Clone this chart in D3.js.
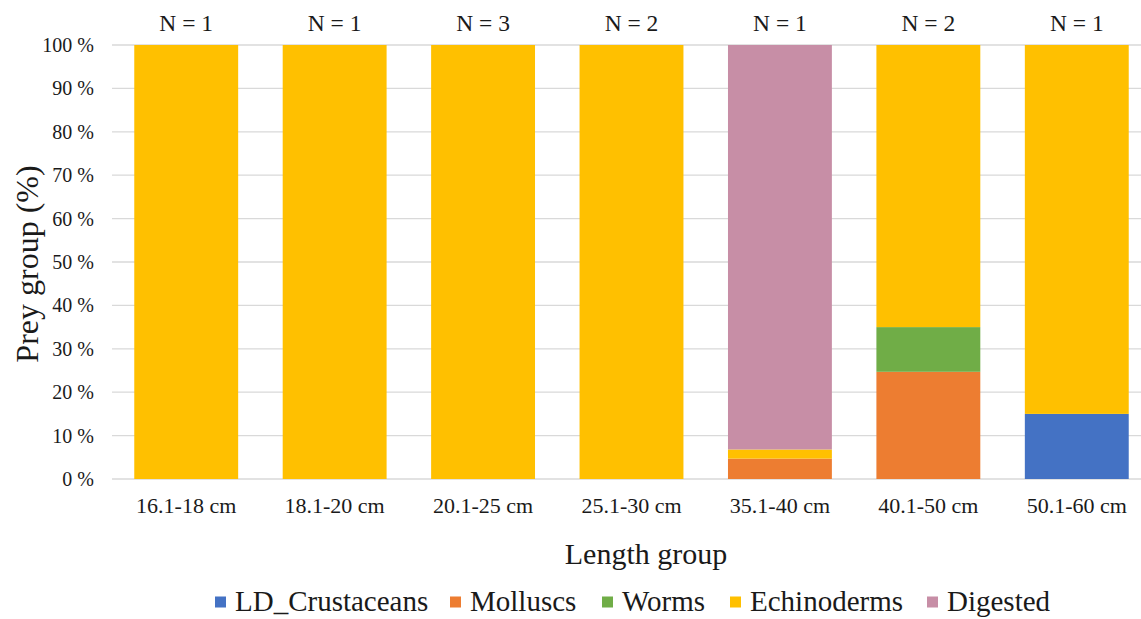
<!DOCTYPE html>
<html><head><meta charset="utf-8">
<script src="https://cdn.jsdelivr.net/npm/d3@7"></script>
<style>body{margin:0;background:#fff;}</style>
</head><body>
<svg id="c" width="1141" height="619"></svg>
<script>
const categories = ["16.1-18 cm","18.1-20 cm","20.1-25 cm","25.1-30 cm","35.1-40 cm","40.1-50 cm","50.1-60 cm"];
const nLabels = ["N = 1","N = 1","N = 3","N = 2","N = 1","N = 2","N = 1"];
const seriesNames = ["LD_Crustaceans","Molluscs","Worms","Echinoderms","Digested"];
const crustaceans = [0,0,0,0,0,0,15];
const molluscs    = [0,0,0,0,4.7,24.7,0];
const worms       = [0,0,0,0,0,10.3,0];
const echinoderms = [100,100,100,100,2.1,65,85];
const digested    = [0,0,0,0,93.2,0,0];
const yTicks = [0,10,20,30,40,50,60,70,80,90,100];
const colors = ["#4472C4","#ED7D31","#70AD47","#FFC000","#C78EA6"];

(function(){
const FONT = "Liberation Serif";
const svg = d3.select("#c");
const pTop = 45, pBottom = 479, pLeft = 112, pRight = 1151;
const x = d3.scaleBand().domain(categories).range([pLeft,pRight]).paddingInner(0.3).paddingOuter(0.15);
const y = d3.scaleLinear().domain([0,100]).range([pBottom,pTop]);

const rows = categories.map((c,i)=>({cat:c, LD_Crustaceans:crustaceans[i], Molluscs:molluscs[i], Worms:worms[i], Echinoderms:echinoderms[i], Digested:digested[i]}));
const stack = d3.stack().keys(seriesNames)(rows);

svg.append("g").selectAll("line").data(yTicks).join("line")
  .attr("x1",pLeft).attr("x2",1141).attr("y1",d=>y(d)).attr("y2",d=>y(d))
  .attr("stroke","#d9d9d9").attr("stroke-width",1.3);

svg.append("g").attr("font-family",FONT).selectAll("text").data(yTicks).join("text")
  .attr("x",94).attr("y",d=>y(d)).attr("dy","0.35em").attr("text-anchor","end")
  .attr("font-size",20).attr("fill","#1a1a1a").text(d=>d+" %");

svg.append("g").selectAll("g").data(stack).join("g")
  .attr("fill",(d,i)=>colors[i])
  .selectAll("rect").data(d=>d).join("rect")
  .attr("x",d=>x(d.data.cat)).attr("width",x.bandwidth())
  .attr("y",d=>y(d[1])).attr("height",d=>y(d[0])-y(d[1]));

svg.append("g").attr("font-family",FONT).selectAll("text").data(categories).join("text")
  .attr("x",d=>x(d)+x.bandwidth()/2).attr("y",513).attr("text-anchor","middle")
  .attr("font-size",22).attr("fill","#1a1a1a").text(d=>d);

svg.append("g").attr("font-family",FONT).selectAll("text").data(categories).join("text")
  .attr("x",d=>x(d)+x.bandwidth()/2).attr("y",31).attr("text-anchor","middle")
  .attr("font-size",23.5).attr("fill","#1a1a1a").text((d,i)=>nLabels[i]);

svg.append("text").attr("font-family",FONT).attr("x",646).attr("y",564).attr("text-anchor","middle")
  .attr("font-size",30).attr("fill","#1a1a1a").text("Length group");
svg.append("text").attr("font-family",FONT).attr("transform","translate(38,264) rotate(-90)").attr("text-anchor","middle")
  .attr("font-size",32).attr("fill","#1a1a1a").text("Prey group (%)");

const legendTextX = [235,470,622,750,947];
const lg = svg.append("g").attr("font-family",FONT).selectAll("g").data(seriesNames).join("g")
  .attr("transform",(d,i)=>`translate(${legendTextX[i]},611)`);
lg.append("rect").attr("x",-20).attr("y",-14.5).attr("width",11).attr("height",11).attr("fill",(d,i)=>colors[i]);
lg.append("text").attr("x",0).attr("y",0).attr("font-size",29).attr("fill","#1a1a1a").text(d=>d);
})();
</script>
</body></html>
